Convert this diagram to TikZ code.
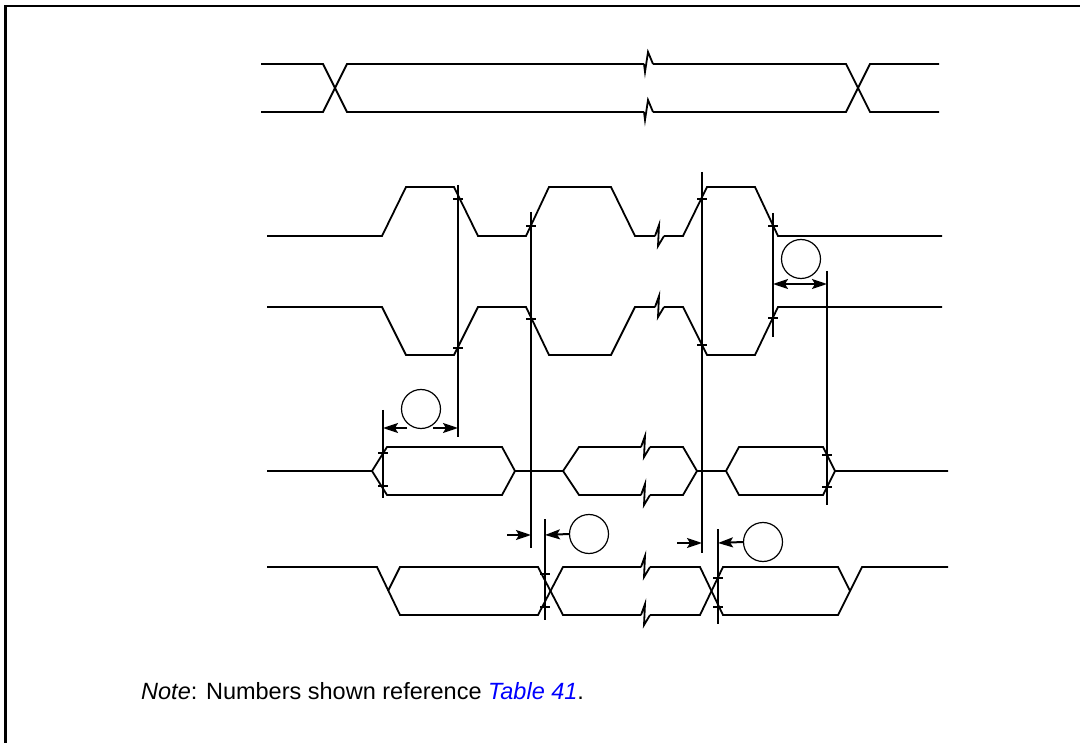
\documentclass[tikz,border=0pt]{standalone}
\usepackage{fontspec}
\setmainfont{Liberation Sans}
\usetikzlibrary{arrows.meta}
\begin{document}
\begin{tikzpicture}[x=1pt,y=-1pt,
    sig/.style={line width=1.8pt},
    vline/.style={line width=2pt},
    dim/.style={line width=2pt,-{Stealth[length=15pt,width=10pt,inset=3pt]}},
    lbl/.style={circle,draw,line width=1.2pt,minimum size=39pt,inner sep=0pt}]
        \useasboundingbox (0,0) rectangle (1080,743);
        \draw[line width=2.4pt] (5.5,743) -- (5.5,6.2) -- (1080,6.2);
        \draw[sig] (261,64) -- (323,64) -- (347,112) -- (644,112);
        \draw[sig] (261,112) -- (323,112) -- (347,64) -- (644,64);
        \draw[sig] (653,64) -- (846,64) -- (870,112) -- (939,112);
        \draw[sig] (653,112) -- (846,112) -- (870,64) -- (939,64);
        \foreach \y in {64,112} \draw[sig] (644,\y) -- ++(1,8) -- ++(3,-20) -- ++(5,12);
        \draw[sig] (267,236) -- (382,236) -- (406,187) -- (454,187) -- (478,236) -- (526,236) -- (549,187) -- (611,187) -- (635,236) -- (655,236);
        \draw[sig] (664,236) -- (683,236) -- (707,187) -- (755,187) -- (778,236) -- (942,236);
        \draw[sig] (267,307) -- (382,307) -- (406,355) -- (454,355) -- (478,307) -- (526,307) -- (549,355) -- (611,355) -- (635,307) -- (655,307);
        \draw[sig] (664,307) -- (683,307) -- (707,355) -- (755,355) -- (778,307) -- (942,307);
        \draw[sig] (267,471) -- (372,471) -- (387,447) -- (502,447) -- (515,471) -- (563,471) -- (579,447) -- (641,447);
        \draw[sig] (372,471) -- (387,495) -- (502,495) -- (515,471);
        \draw[sig] (563,471) -- (579,495) -- (641,495);
        \draw[sig] (650,447) -- (683,447) -- (697,471) -- (726,471) -- (739,447) -- (823,447) -- (835,471) -- (948,471);
        \draw[sig] (650,495) -- (683,495) -- (697,471);
        \draw[sig] (726,471) -- (739,495) -- (823,495) -- (835,471);
        \draw[sig] (267,567) -- (377,567) -- (400,615) -- (538,615) -- (563,567) -- (641,567);
        \draw[sig] (388,591) -- (400,567) -- (538,567) -- (563,615) -- (641,615);
        \draw[sig] (650,567) -- (700,567) -- (723,615) -- (838,615) -- (862,567) -- (948,567);
        \draw[sig] (650,615) -- (700,615) -- (723,567) -- (838,567) -- (850,591);
        \foreach \x/\y in {655/236,655/307,641/447,641/495,641/567,641/615} \draw[sig] (\x,\y) -- ++(4,-11) -- ++(-1,21) -- ++(6,-10);
        \foreach \x/\a/\b in {458/185/437,531/212/548,702/172/553,773/213/337,827/271/505,383/410/498,545/519/620,718/529/624} \draw[vline] (\x,\a) -- (\x,\b);
        \foreach \x/\y in {458/199,458/348,531/226,531/319,702/199,702/345,773/226,773/318,827/455,827/487,383/453,383/486,545/574,545/607,718/578,718/607} \draw[vline] (\x-5,\y) -- (\x+5,\y);
        \node[lbl](c1)at(801,259){};
        \node[lbl](c2)at(421,409){};
        \node[lbl](c3)at(589,534){};
        \node[lbl](c4)at(763,542){};
        \coordinate (v4) at (773,284);
        \coordinate (v5) at (827,284);
        \coordinate (v6) at (383,428);
        \coordinate (v1) at (458,428);
        \coordinate (a2l) at (407,428);
        \coordinate (a2r) at (433,428);
        \coordinate (v2) at (531,535);
        \coordinate (a3) at (507,535);
        \coordinate (v7) at (545,535);
        \coordinate (v3) at (702,543);
        \coordinate (a4) at (677,543);
        \coordinate (v8) at (718,543);
        \draw[dim,{Stealth[length=15pt,width=10pt,inset=3pt]}-{Stealth[length=15pt,width=10pt,inset=3pt]}] (v4) -- (v5);
        \draw[dim] (a2l) -- (v6);
        \draw[dim] (a2r) -- (v1);
        \draw[dim] (a3) -- (v2);
        \draw[dim] (c3.west) -- (v7);
        \draw[dim] (a4) -- (v3);
        \draw[dim] (c4.west) -- (v8);
        \node[anchor=base west,inner sep=0pt,font=\fontsize{23.5}{28}\selectfont](note)at(141,699){\textit{Note}: Numbers shown reference \textcolor{blue}{\textit{Table 41}}.};
    \end{tikzpicture}
\end{document}
